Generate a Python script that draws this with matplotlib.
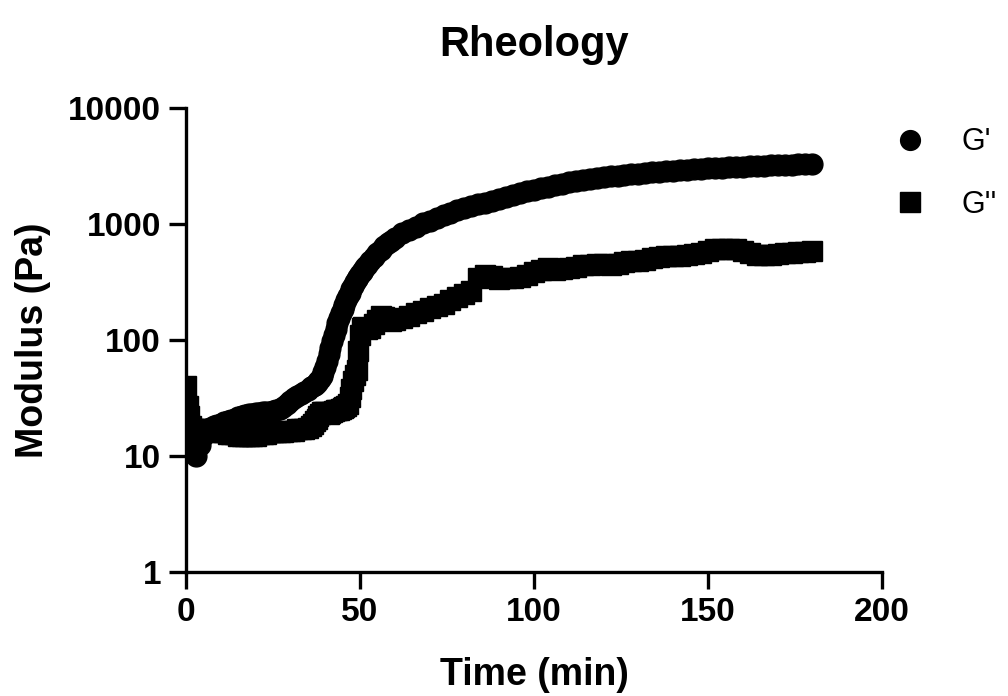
import matplotlib
matplotlib.use("Agg")
import matplotlib.pyplot as plt

plt.rcParams["font.family"] = ["Liberation Sans", "DejaVu Sans"]

# time points (min)
time_min = [
    0, 0.5, 1, 1.5, 2, 2.5, 3,
    4, 5, 6, 7, 8, 9, 10, 11, 12, 13, 14, 15, 16, 17, 18, 19, 20,
    21, 22, 23, 24, 25, 26, 27, 28, 29, 30, 31, 32, 33, 34, 35,
    36, 36.5, 37, 37.5, 38, 38.5, 39, 39.5, 40, 40.5, 41, 41.5, 42, 42.5,
    43, 43.5, 44, 44.5, 45, 45.5, 46, 46.5, 47, 47.5, 48, 48.5, 49, 49.5,
    50, 50.5, 51, 51.5, 52,
    53, 54, 55, 56, 57, 58, 59, 60,
    62, 64, 66, 68, 70, 72, 74, 76, 78, 80, 82, 84, 86, 88, 90,
    92, 94, 96, 98, 100, 102, 104, 106, 108, 110, 112, 114, 116, 118, 120,
    122, 124, 126, 128, 130, 132, 134, 136, 138, 140, 142, 144, 146, 148, 150,
    152, 154, 156, 158, 160, 162, 164, 166, 168, 170, 172, 174, 176, 178, 180,
]

# storage modulus G' (Pa)
g_storage = [
    20, 14, 13, 17, 12, 10.5, 10,
    12.5, 15, 16.5, 17.5, 18, 18.5, 19, 19.5, 20, 20.5, 21, 21.5, 22, 22.5, 23, 23, 23.5,
    23.5, 24, 24, 24, 24.5, 25, 25.5, 26.5, 28, 30, 31.5, 33, 34, 35.5, 37,
    39, 40, 41, 42.5, 44, 46, 49, 53, 58, 66, 75, 86, 98, 111,
    125, 140, 155, 170, 185, 202, 220, 238, 255, 275, 295, 315, 335, 352,
    370, 388, 405, 422, 440,
    480, 520, 560, 600, 640, 680, 720, 760,
    830, 890, 950, 1010, 1070, 1130, 1190, 1250, 1310, 1370, 1430, 1480, 1530, 1590, 1650,
    1720, 1780, 1850, 1910, 1970, 2040, 2100, 2160, 2220, 2280, 2330, 2380, 2430, 2480, 2530,
    2570, 2610, 2650, 2690, 2720, 2750, 2790, 2820, 2850, 2880, 2910, 2940, 2960, 2990, 3020,
    3040, 3060, 3080, 3110, 3130, 3150, 3170, 3180, 3200, 3220, 3230, 3250, 3260, 3280, 3290,
]

# loss modulus G'' (Pa)
g_loss = [
    40, 27, 22, 18, 17, 16, 16,
    17, 17, 17, 16.5, 16.5, 16, 16, 16, 15.5, 15.5, 15.5, 15, 15, 15, 15, 15, 15,
    15.5, 15.5, 15.5, 16, 16, 16, 16, 16, 16.5, 16.5, 16.5, 17, 17, 17, 17.5,
    18, 19, 20, 21, 22, 23, 24, 24, 24, 23.5, 23, 23.5, 24, 24.5,
    25, 25, 25, 25.5, 26, 26.5, 27, 28, 32, 38, 44, 50, 55, 80,
    110, 128, 130, 127, 125,
    128, 138, 150, 162, 158, 148, 146, 148,
    155, 162, 170, 178, 188, 196, 205, 220, 235, 250, 262, 340, 360, 355, 335,
    340, 345, 350, 365, 385, 400, 415, 405, 410, 420, 430, 440, 445, 450, 455,
    445, 450, 470, 480, 480, 490, 505, 520, 525, 530, 535, 540, 555, 560, 590,
    610, 610, 610, 605, 590, 560, 545, 540, 545, 555, 560, 565, 570, 575, 580,
]

x_ticks = [0, 50, 100, 150, 200]
y_ticks = [1, 10, 100, 1000, 10000]
y_tick_labels = ["1", "10", "100", "1000", "10000"]

fig = plt.figure(figsize=(10.08, 6.96), dpi=100)
ax = fig.add_axes([186 / 1008, 1 - 572 / 696, 696 / 1008, 464 / 696])

ax.plot(time_min, g_loss, linestyle="none", marker="s", markersize=15,
        color="black", label="G''")
ax.plot(time_min, g_storage, linestyle="none", marker="o", markersize=15,
        color="black", label="G'")

ax.set_yscale("log")
ax.set_xlim(0, 200)
ax.set_ylim(1, 10000)
ax.set_xticks(x_ticks)
ax.set_xticklabels([str(t) for t in x_ticks])
ax.set_yticks(y_ticks)
ax.set_yticklabels(y_tick_labels)
ax.minorticks_off()

for side in ["top", "right"]:
    ax.spines[side].set_visible(False)
for side in ["left", "bottom"]:
    ax.spines[side].set_linewidth(2.4)

ax.tick_params(axis="both", direction="out", length=12, width=2.4, pad=6,
               labelsize=24)
for lab in ax.get_xticklabels() + ax.get_yticklabels():
    lab.set_fontweight("bold")

ax.set_xlabel("Time (min)", fontsize=27, fontweight="bold", labelpad=21)
ax.set_ylabel("Modulus (Pa)", fontsize=27, fontweight="bold", labelpad=12)

fig.text(534 / 1008, 1 - 45 / 696, "Rheology", fontsize=30, fontweight="bold",
         ha="center", va="center")

handles, labels = ax.get_legend_handles_labels()
leg = fig.legend(handles[::-1], labels[::-1], loc="upper left",
                 bbox_to_anchor=(882 / 1008, 1 - 115 / 696),
                 frameon=False, fontsize=22, markerscale=0.95,
                 borderaxespad=0, handlelength=1.0, handletextpad=1.2,
                 labelspacing=1.07)

fig.savefig("out.png", dpi=100)
